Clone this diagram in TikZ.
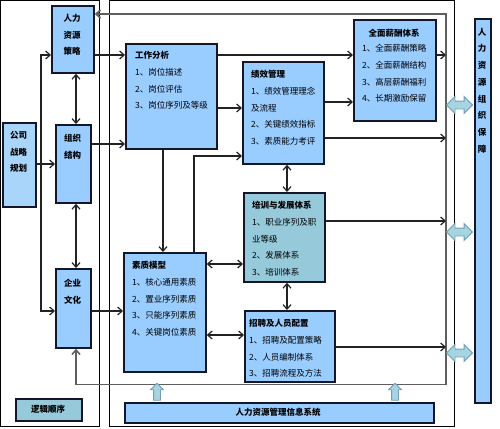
\documentclass[tikz,border=0pt]{standalone}
\usepackage{fontspec}
\usepackage{xcolor}
\usepackage{tikz}
\usetikzlibrary{arrows.meta,shapes.arrows}
\newfontfamily\cjk{Noto Sans CJK SC}
\definecolor{boxblue}{HTML}{99CCFF}
\definecolor{paleblue}{HTML}{A9D5FA}
\definecolor{boxteal}{HTML}{96CADB}
\definecolor{edge}{HTML}{16162A}
\definecolor{wire}{HTML}{222222}
\definecolor{loopgray}{HTML}{5E5E5E}
\definecolor{fatfill}{HTML}{A6D5E1}
\definecolor{fatedge}{HTML}{6F9FB4}
\tikzset{
  box/.style={draw=edge, fill=boxblue, line width=1.8pt, anchor=north west, inner sep=0pt},
  frame/.style={draw=black, line width=1pt},
  con/.style={draw=wire, line width=1.2pt, -{Straight Barb[length=4.5pt,width=8pt]}},
  dcon/.style={con, {Straight Barb[length=4.5pt,width=8pt]}-{Straight Barb[length=4.5pt,width=8pt]}},
  fb/.style={draw=loopgray, line width=1.6pt, {Straight Barb[length=4.5pt,width=8pt]}-{Straight Barb[length=4.5pt,width=8pt]}},
  fat/.style={draw=fatedge, fill=fatfill, line width=0.9pt},
  lab/.style={font=\cjk\fontsize{8.5}{16.7}\selectfont, inner sep=0pt, text=black},
  hd/.style={font=\cjk\bfseries\fontsize{8.5}{16.7}\selectfont, inner sep=0pt, text=black},
}
\begin{document}
\begin{tikzpicture}[x=1pt,y=-1pt]
  \useasboundingbox (0,0) rectangle (500,428);
  \draw[frame] (0.5,0.5) rectangle (99,426.5);
  \draw[frame] (109,0.5) rectangle (454,426.5);

  \node[box, minimum width=42pt, minimum height=67pt] (hrs) at (51,5) {};
  \node[box, minimum width=35pt, minimum height=78pt] (org) at (55,124) {};
  \node[box, fill=paleblue, minimum width=33pt, minimum height=84pt] (corp) at (2,122) {};
  \node[box, minimum width=35pt, minimum height=79pt] (cul) at (55,268) {};
  \node[box, fill=boxteal, minimum width=66pt, minimum height=22pt] (logic) at (15,398) {};
  \node[box, minimum width=91pt, minimum height=105pt] (job) at (125,43) {};
  \node[box, minimum width=81pt, minimum height=102pt] (perf) at (242,61) {};
  \node[box, minimum width=82pt, minimum height=101pt] (pay) at (353,19) {};
  \node[box, fill=boxteal, minimum width=81pt, minimum height=89pt] (train) at (243,192) {};
  \node[box, minimum width=82pt, minimum height=119pt] (comp) at (123,252) {};
  \node[box, minimum width=90pt, minimum height=71pt] (recr) at (244,310) {};
  \node[box, minimum width=309pt, minimum height=20pt] (info) at (124,402) {};
  \node[box, minimum width=16pt, minimum height=384pt] (guar) at (474,18) {};

  \node[hd, align=center] (hrsT) at (72,35) {人力\\资源\\策略};
  \node[hd, align=center] (orgT) at (72.5,146.5) {组织\\结构};
  \node[hd, align=center] (corpT) at (18.5,152) {公司\\战略\\规划};
  \node[hd, align=center] (culT) at (72.5,291.5) {企业\\文化};
  \node[hd] (logicT) at (48,409) {逻辑顺序};
  \node[hd] (infoT) at (278,412) {人力资源管理信息系统};
  \node[hd, align=center] (guarT) at (482,90.5) {人\\力\\资\\源\\组\\织\\保\\障};
  \node[lab, align=left, anchor=north west] (jobT) at (135,51.3)
    {{\bfseries 工作分析}\\1、岗位描述\\2、岗位评估\\3、岗位序列及等级};
  \node[lab, align=left, anchor=north west] (perfT) at (251,70.3)
    {{\bfseries 绩效管理}\\1、绩效管理理念\\及流程\\2、关键绩效指标\\3、素质能力考评};
  \node[hd] (payH) at (394,33) {全面薪酬体系};
  \node[lab, align=left, anchor=north west] (payT) at (362,44.3)
    {1、全面薪酬策略\\2、全面薪酬结构\\3、高层薪酬福利\\4、长期激励保留};
  \node[lab, align=left, anchor=north west] (trainT) at (252,201.3)
    {{\bfseries 培训与发展体系}\\1、职业序列及职\\业等级\\2、发展体系\\3、培训体系};
  \node[lab, align=left, anchor=north west] (compT) at (132,261.3)
    {{\bfseries 素质模型}\\1、核心通用素质\\2、置业序列素质\\3、只能序列素质\\4、关键岗位素质};
  \node[lab, align=left, anchor=north west] (recrT) at (249,319.3)
    {{\bfseries 招聘及人员配置}\\1、招聘及配置策略\\2、人员编制体系\\3、招聘流程及方法};

  \coordinate (fbTR) at (446,14);
  \coordinate (fbBR) at (446,384.5);
  \coordinate (jn) at (41,164);
  \draw[fb] (cul.south -| 76,0) |- (fbBR) -- (fbTR) -- (hrs.east |- fbTR);

  \draw[con] (corp.east |- jn) -- (org.west |- jn);
  \draw[con] (jn) |- (hrs.west |- 0,55);
  \draw[con] (jn) |- (cul.west |- 0,311);
  \draw[dcon] (hrs.south -| 76,0) -- (org.north -| 76,0);
  \draw[dcon] (org.south -| 76,0) -- (cul.north -| 76,0);
  \draw[con] (hrs.east |- 0,55) -- (job.west |- 0,55);
  \draw[con] (org.east |- 0,144) -- (job.west |- 0,144);
  \draw[con] (cul.east |- 0,311) -- (comp.west |- 0,311);
  \draw[con] (job.east |- 0,55) -- (pay.west |- 0,55);
  \draw[con] (job.east |- 0,108) -- (perf.west |- 0,108);
  \draw[con] (perf.east |- 0,102) -- (pay.west |- 0,102);
  \draw[con] (job.south -| 163,0) -- (comp.north -| 163,0);
  \draw[con] (comp.north -| 194,0) |- (perf.west |- 0,156);
  \draw[dcon] (perf.south -| 287,0) -- (train.north -| 287,0);
  \draw[dcon] (train.south -| 287,0) -- (recr.north -| 287,0);
  \draw[dcon] (comp.east |- 0,264) -- (train.west |- 0,264);
  \draw[dcon] (comp.east |- 0,335) -- (recr.west |- 0,335);
  \draw[con] (pay.east |- 0,55) -- (fbTR |- 0,55);
  \draw[con] (perf.east |- 0,138) -- (fbTR |- 0,138);
  \draw[con] (train.east |- 0,221) -- (fbTR |- 0,221);
  \draw[con] (recr.east |- 0,347) -- (fbTR |- 0,347);

  \node[fat, double arrow, minimum height=26pt, double arrow head extend=4.5pt, inner sep=3.5pt] (da1) at (459.5,105) {};
  \node[fat, double arrow, minimum height=26pt, double arrow head extend=4.5pt, inner sep=3.5pt] (da2) at (459.5,232) {};
  \node[fat, double arrow, minimum height=26pt, double arrow head extend=4.5pt, inner sep=3.5pt] (da3) at (459.5,353) {};
  \node[fat, single arrow, shape border rotate=90, minimum height=17pt, single arrow head extend=3pt, inner sep=3pt] (ua1) at (157,393.5) {};
  \node[fat, single arrow, shape border rotate=90, minimum height=17pt, single arrow head extend=3pt, inner sep=3pt] (ua2) at (395,393.5) {};
\end{tikzpicture}
\end{document}
